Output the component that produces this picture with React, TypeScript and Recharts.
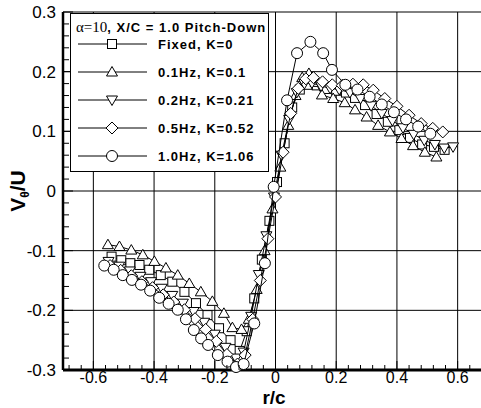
import React from 'react';
import { ScatterChart, Scatter, XAxis, YAxis, ReferenceLine } from 'recharts';

// r/c and V_theta/U, one pair of arrays per series
const fixedR = [-0.54, -0.508, -0.478, -0.448, -0.416, -0.378, -0.34, -0.3, -0.262, -0.224, -0.186, -0.148, -0.118, -0.095, -0.07, -0.045, -0.02, 0.005, 0.03, 0.055, 0.08, 0.105, 0.136, 0.168, 0.2, 0.232, 0.262, 0.295, 0.333, 0.37, 0.408, 0.443, 0.483, 0.522, 0.557];
const fixedV = [-0.11, -0.116, -0.121, -0.124, -0.132, -0.141, -0.152, -0.169, -0.188, -0.208, -0.23, -0.25, -0.268, -0.235, -0.18, -0.115, -0.05, 0.015, 0.08, 0.14, 0.17, 0.178, 0.177, 0.171, 0.168, 0.165, 0.156, 0.144, 0.129, 0.116, 0.102, 0.089, 0.078, 0.074, 0.069];

const hz01R = [-0.552, -0.514, -0.475, -0.437, -0.399, -0.361, -0.322, -0.284, -0.246, -0.208, -0.17, -0.142, -0.112, -0.088, -0.062, -0.036, -0.01, 0.016, 0.042, 0.066, 0.088, 0.11, 0.132, 0.153, 0.19, 0.228, 0.262, 0.3, 0.338, 0.377, 0.415, 0.453, 0.492, 0.53];
const hz01V = [-0.09, -0.093, -0.099, -0.107, -0.118, -0.129, -0.141, -0.155, -0.169, -0.185, -0.205, -0.229, -0.232, -0.215, -0.165, -0.1, -0.03, 0.04, 0.11, 0.16, 0.19, 0.197, 0.182, 0.161, 0.155, 0.148, 0.136, 0.124, 0.11, 0.099, 0.088, 0.076, 0.065, 0.057];

const hz02R = [-0.55, -0.515, -0.48, -0.445, -0.41, -0.375, -0.34, -0.305, -0.27, -0.235, -0.2, -0.165, -0.13, -0.105, -0.08, -0.055, -0.03, -0.005, 0.02, 0.045, 0.07, 0.095, 0.12, 0.15, 0.18, 0.21, 0.245, 0.28, 0.315, 0.35, 0.385, 0.42, 0.455, 0.49, 0.525, 0.556, 0.585];
const hz02V = [-0.118, -0.126, -0.134, -0.143, -0.152, -0.163, -0.175, -0.188, -0.202, -0.22, -0.24, -0.262, -0.28, -0.27, -0.21, -0.14, -0.075, -0.01, 0.06, 0.12, 0.165, 0.18, 0.181, 0.176, 0.172, 0.17, 0.165, 0.155, 0.143, 0.13, 0.118, 0.106, 0.095, 0.085, 0.078, 0.072, 0.074];

const hz05R = [-0.545, -0.51, -0.475, -0.44, -0.405, -0.37, -0.335, -0.3, -0.265, -0.23, -0.195, -0.16, -0.125, -0.1, -0.075, -0.05, -0.025, 0, 0.025, 0.05, 0.075, 0.1, 0.125, 0.155, 0.187, 0.22, 0.255, 0.289, 0.322, 0.36, 0.4, 0.44, 0.48, 0.518, 0.551];
const hz05V = [-0.125, -0.133, -0.142, -0.152, -0.162, -0.174, -0.186, -0.199, -0.214, -0.232, -0.252, -0.274, -0.29, -0.275, -0.215, -0.15, -0.08, -0.01, 0.065, 0.13, 0.172, 0.188, 0.19, 0.183, 0.178, 0.177, 0.179, 0.178, 0.169, 0.155, 0.142, 0.127, 0.113, 0.105, 0.099];

const hz10R = [-0.564, -0.533, -0.503, -0.473, -0.443, -0.413, -0.383, -0.352, -0.322, -0.295, -0.269, -0.245, -0.222, -0.19, -0.158, -0.13, -0.105, -0.07, -0.035, -0.006, 0.038, 0.071, 0.115, 0.157, 0.186, 0.23, 0.27, 0.31, 0.35, 0.39, 0.43, 0.47, 0.51];
const hz10V = [-0.125, -0.132, -0.141, -0.149, -0.157, -0.167, -0.179, -0.189, -0.199, -0.215, -0.233, -0.247, -0.258, -0.275, -0.286, -0.295, -0.29, -0.222, -0.121, 0.007, 0.152, 0.231, 0.25, 0.231, 0.203, 0.178, 0.17, 0.158, 0.145, 0.132, 0.12, 0.108, 0.096];

const seriesNames = ['Fixed, K=0', '0.1Hz, K=0.1', '0.2Hz, K=0.21', '0.5Hz, K=0.52', '1.0Hz, K=1.06'];
const seriesMarkers = ['square', 'up', 'down', 'diamond', 'circle'];

const xMajor = [-0.6, -0.4, -0.2, 0, 0.2, 0.4, 0.6];
const yMajor = [-0.2, -0.1, 0, 0.1, 0.2, 0.3];
const xMinor = [-0.68, -0.64, -0.6, -0.56, -0.52, -0.48, -0.44, -0.4, -0.36, -0.32, -0.28, -0.24, -0.2, -0.16, -0.12, -0.08, -0.04, 0, 0.04, 0.08, 0.12, 0.16, 0.2, 0.24, 0.28, 0.32, 0.36, 0.4, 0.44, 0.48, 0.52, 0.56, 0.6, 0.64, 0.68];
const yMinor = [-0.3, -0.28, -0.26, -0.24, -0.22, -0.2, -0.18, -0.16, -0.14, -0.12, -0.1, -0.08, -0.06, -0.04, -0.02, 0, 0.02, 0.04, 0.06, 0.08, 0.1, 0.12, 0.14, 0.16, 0.18, 0.2, 0.22, 0.24, 0.26, 0.28, 0.3];

const zip = (r: number[], v: number[]) => r.map((x, i) => ({ x, y: v[i] }));
const series = [zip(fixedR, fixedV), zip(hz01R, hz01V), zip(hz02R, hz02V), zip(hz05R, hz05V), zip(hz10R, hz10V)];

const SANS = '"Liberation Sans", Arial, sans-serif';
const PLOT_LEFT = 63;
const PLOT_BOTTOM = 370;

const isMajor = (v: number, step: number) => Math.abs(Math.round(v / step) * step - v) < 1e-6;
const fmt = (v: number) => (Math.abs(v) < 1e-9 ? '0' : v.toFixed(1));

function Marker({ kind, cx, cy }: { kind: string; cx: number; cy: number }) {
  const common = { fill: '#fff', stroke: '#000', strokeWidth: 1 };
  if (kind === 'square') return <rect x={cx - 4.5} y={cy - 4.5} width={9} height={9} {...common} />;
  if (kind === 'up') return <polygon points={`${cx},${cy - 5.5} ${cx - 5.5},${cy + 4} ${cx + 5.5},${cy + 4}`} {...common} />;
  if (kind === 'down') return <polygon points={`${cx},${cy + 5.5} ${cx - 5.5},${cy - 4} ${cx + 5.5},${cy - 4}`} {...common} />;
  if (kind === 'diamond') return <polygon points={`${cx},${cy - 6} ${cx + 6},${cy} ${cx},${cy + 6} ${cx - 6},${cy}`} {...common} />;
  return <circle cx={cx} cy={cy} r={5.5} {...common} />;
}

const XTick = (props: any) => {
  const { x, payload } = props;
  const major = isMajor(payload.value, 0.2);
  return (
    <g>
      <line x1={x} x2={x} y1={PLOT_BOTTOM} y2={PLOT_BOTTOM - (major ? 9 : 5)} stroke="#000" />
      {major && (
        <text x={x} y={383} textAnchor="middle" fontFamily={SANS} fontSize={16} fill="#000">
          {fmt(payload.value)}
        </text>
      )}
    </g>
  );
};

const YTick = (props: any) => {
  const { y, payload } = props;
  const major = isMajor(payload.value, 0.1);
  return (
    <g>
      <line x1={PLOT_LEFT} x2={PLOT_LEFT + (major ? 10 : 6)} y1={y} y2={y} stroke="#000" />
      {major && (
        <text x={56} y={y + 6} textAnchor="end" fontFamily={SANS} fontSize={17} fill="#000">
          {fmt(payload.value)}
        </text>
      )}
    </g>
  );
};

const Legend = () => (
  <svg width={200} height={160} style={{ position: 'absolute', left: 70, top: 13 }}>
    <rect x={0.5} y={0.5} width={198} height={158} fill="#fff" stroke="#000" />
    <text x={6} y={19} fontFamily={SANS} fontSize={13} fontWeight="bold" letterSpacing={1}>
      <tspan fontFamily='"Liberation Serif", serif' fontWeight="normal" fontSize={15} letterSpacing={0}>α=10</tspan>
      , X/C = 1.0 Pitch-Down
    </text>
    {seriesNames.map((name, i) => {
      const cy = 31 + i * 28;
      return (
        <g key={name}>
          <line x1={8} x2={77} y1={cy} y2={cy} stroke="#000" />
          <Marker kind={seriesMarkers[i]} cx={42} cy={cy} />
          <text x={88} y={cy + 5} fontFamily={SANS} fontSize={13} fontWeight="bold" letterSpacing={1}>
            {name}
          </text>
        </g>
      );
    })}
  </svg>
);

export default function App() {
  return (
    <div style={{ position: 'absolute', left: 0, top: 0, width: 481, height: 408, overflow: 'hidden', background: '#fff' }}>
      <ScatterChart width={500} height={408} margin={{ top: 12, right: 12, bottom: 0, left: 0 }}>
        <XAxis
          type="number"
          dataKey="x"
          domain={[-0.7, 0.7]}
          ticks={xMinor}
          interval={0}
          tick={<XTick />}
          tickLine={false}
          axisLine={{ stroke: '#000', strokeWidth: 3 }}
          height={38}
          label={() => (
            <text x={274} y={404} textAnchor="middle" fontFamily={SANS} fontSize={19} fontWeight="bold">
              r/c
            </text>
          )}
        />
        <YAxis
          type="number"
          dataKey="y"
          domain={[-0.3, 0.3]}
          ticks={yMinor}
          interval={0}
          tick={<YTick />}
          tickLine={false}
          axisLine={{ stroke: '#000', strokeWidth: 2.5 }}
          width={63}
          label={() => (
            <text transform="translate(25,191) rotate(-90)" textAnchor="middle" fontFamily={SANS} fontSize={21} fontWeight="bold">
              V<tspan fontSize={12} dy={4}>θ</tspan>
              <tspan dy={-4}>/U</tspan>
            </text>
          )}
        />
        {xMajor.map((v) => (
          <ReferenceLine key={'gx' + v} x={v} stroke="#000" strokeWidth={1} />
        ))}
        {yMajor.map((v) => (
          <ReferenceLine key={'gy' + v} y={v} stroke="#000" strokeWidth={1} />
        ))}
        {series.map((data, i) => (
          <Scatter
            key={seriesNames[i]}
            name={seriesNames[i]}
            data={data}
            line={{ stroke: '#000', strokeWidth: 1 }}
            shape={(p: any) => <Marker kind={seriesMarkers[i]} cx={p.cx} cy={p.cy} />}
            isAnimationActive={false}
          />
        ))}
      </ScatterChart>
      <Legend />
    </div>
  );
}
